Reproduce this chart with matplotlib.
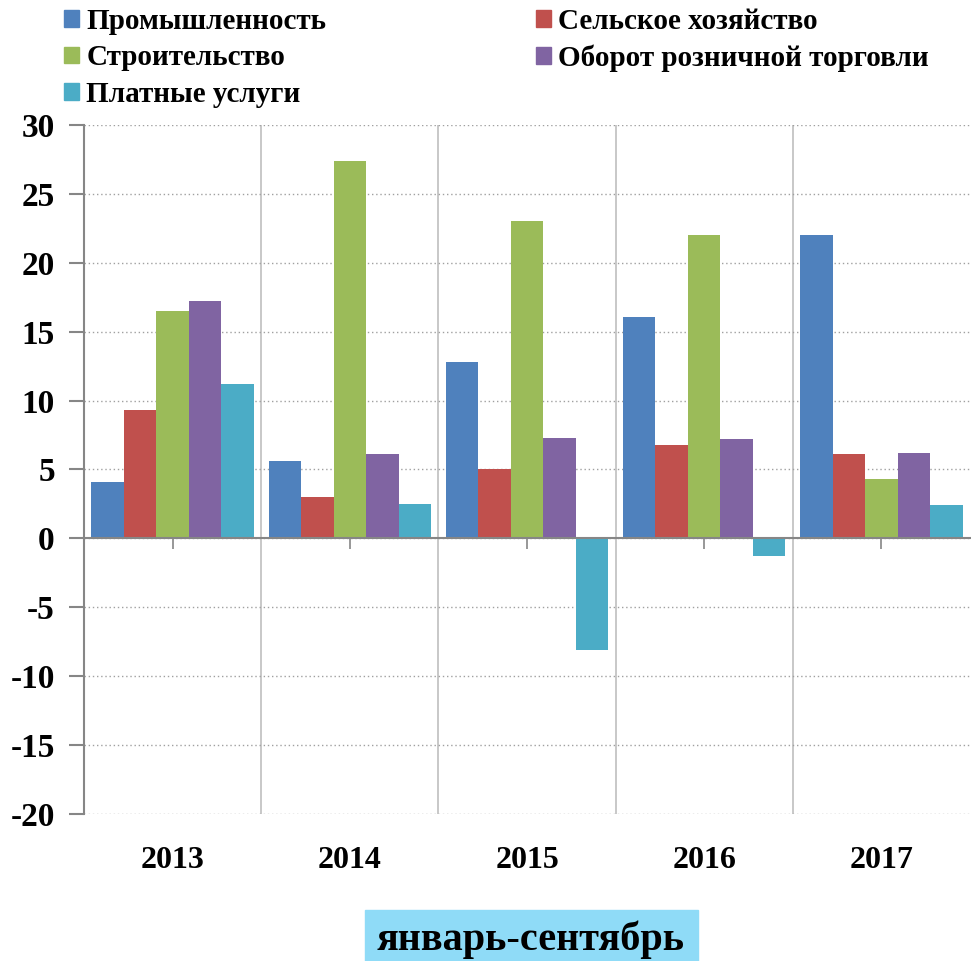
import numpy as np
import matplotlib
matplotlib.use('Agg')
import matplotlib.pyplot as plt
from matplotlib.patches import Rectangle, Patch
from matplotlib.transforms import blended_transform_factory

plt.rcParams['font.family'] = ['Liberation Serif', 'DejaVu Serif']
plt.rcParams['font.weight'] = 'bold'
plt.rcParams['axes.unicode_minus'] = False

years = ['2013', '2014', '2015', '2016', '2017']
series = ['Промышленность', 'Сельское хозяйство', 'Строительство',
          'Оборот розничной торговли', 'Платные услуги']
industry = [4.1, 5.6, 12.8, 16.1, 22.0]
agriculture = [9.3, 3.0, 5.0, 6.8, 6.1]
construction = [16.5, 27.4, 23.0, 22.0, 4.3]
retail = [17.2, 6.1, 7.3, 7.2, 6.2]
services = [11.2, 2.5, -8.1, -1.3, 2.4]
colors = ['#4F81BD', '#C0504D', '#9BBB59', '#8064A2', '#4BACC6']
footer = 'январь-сентябрь'

values = [industry, agriculture, construction, retail, services]

fig = plt.figure(figsize=(9.71, 9.61), dpi=100)
ax = fig.add_axes([84 / 971, 1 - 814 / 961, 886 / 971, 689 / 961])

x = np.arange(len(years))
w = 0.1835
for j, (vals, col) in enumerate(zip(values, colors)):
    ax.bar(x + (j - 2) * w, vals, width=w, color=col, linewidth=0)

ax.set_xlim(-0.5, len(years) - 0.5)
ax.set_ylim(-20, 30)
ax.set_yticks(np.arange(-20, 31, 5))

grid_gray = '#BFBFBF'
axis_gray = '#868686'
ax.yaxis.grid(True, linestyle=(0, (1, 2)), color='#A0A0A0', linewidth=1)
for b in np.arange(0.5, len(years) - 0.5, 1):
    ax.axvline(b, color=grid_gray, linewidth=1.2, zorder=0)
ax.set_axisbelow(True)

for s in ['top', 'right']:
    ax.spines[s].set_visible(False)
ax.spines['left'].set_color(axis_gray)
ax.spines['left'].set_linewidth(1.5)
ax.spines['bottom'].set_position(('data', 0))
ax.spines['bottom'].set_color(axis_gray)
ax.spines['bottom'].set_linewidth(1.5)

ax.set_xticks(x)
ax.set_xticklabels([])
ax.tick_params(axis='x', direction='out', length=8, width=1.2, color=axis_gray)
ax.tick_params(axis='y', direction='out', length=11, width=1.5, color=axis_gray,
               labelsize=24, pad=10)
for lab in ax.get_yticklabels():
    lab.set_fontweight('bold')

tr = blended_transform_factory(ax.transData, ax.transAxes)
for xi, yr in zip(x, years):
    ax.text(xi, -0.068, yr, transform=tr, ha='center', va='center',
            fontsize=23, fontweight='bold')

handles = [Patch(color=c) for c in colors]
order = [0, 2, 4, 1, 3]
fig.legend([handles[i] for i in order], [series[i] for i in order],
           ncol=2, loc='upper left', bbox_to_anchor=(38 / 971, 1.019),
           frameon=False, prop={'weight': 'bold', 'size': 21},
           handlelength=0.5, handleheight=0.5, handletextpad=0.25,
           columnspacing=7.2, labelspacing=0.32)

fig.patches.append(Rectangle((365 / 971, 0), 333 / 971, 51 / 961,
                             transform=fig.transFigure, color='#8FDBF7',
                             zorder=0))
fig.text(531 / 971, 1 - 940 / 961, footer, ha='center', va='center',
         fontsize=29, fontweight='bold')

fig.savefig('out.png', dpi=100)
